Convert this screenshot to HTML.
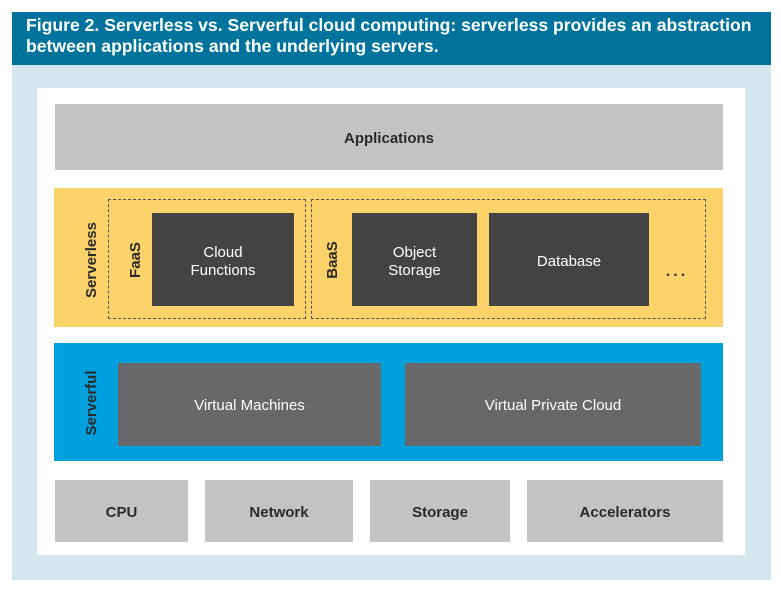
<!DOCTYPE html>
<html><head><style>
*{margin:0;padding:0;box-sizing:border-box}
body{width:781px;height:593px;background:#fff;position:relative;font-family:"Liberation Sans",sans-serif;overflow:hidden}
.a{position:absolute;display:flex;align-items:center;justify-content:center;text-align:center}
.g{background:#c2c3c5;color:#2a2a2a;font-weight:bold;font-size:15px;padding-top:3px}
.d{background:#434343;color:#fff;font-size:15px;line-height:18px;padding-top:4px}
.m{background:#68686a;color:#fff;font-size:15px;padding-top:2px}
.v{transform:rotate(-90deg);font-weight:bold;font-size:15px;color:#2a2a2a;white-space:nowrap}
.dash{position:absolute;border:1.5px dashed #555}
</style></head><body>
<div class="a" style="left:12px;top:12px;width:759px;height:568px;background:#d6e6ef"></div>
<div style="position:absolute;left:12px;top:12px;width:759px;height:53px;background:#00739c;color:#fff;font-weight:bold;font-size:17.6px;line-height:21px;padding:3px 0 0 14px;white-space:nowrap">Figure 2. Serverless vs. Serverful cloud computing: serverless provides an abstraction<br>between applications and the underlying servers.</div>
<div class="a" style="left:37px;top:88px;width:708px;height:467px;background:#fff"></div>
<div class="a g" style="left:55px;top:104px;width:668px;height:66px">Applications</div>
<div class="a" style="left:54px;top:188px;width:669px;height:139px;background:#fcd36b"></div>
<div class="dash" style="left:108px;top:199px;width:198px;height:120px"></div>
<div class="dash" style="left:311px;top:199px;width:395px;height:120px"></div>
<div class="a v" style="left:51px;top:250px;width:80px;height:20px">Serverless</div>
<div class="a v" style="left:115px;top:250px;width:40px;height:20px">FaaS</div>
<div class="a v" style="left:312px;top:250px;width:40px;height:20px">BaaS</div>
<div class="a d" style="left:152px;top:213px;width:142px;height:93px">Cloud<br>Functions</div>
<div class="a d" style="left:352px;top:213px;width:125px;height:93px">Object<br>Storage</div>
<div class="a d" style="left:489px;top:213px;width:160px;height:93px">Database</div>
<div class="a" style="left:660px;top:262px;width:34px;height:20px;font-weight:bold;font-size:16px;color:#333;letter-spacing:3px">...</div>
<div class="a" style="left:54px;top:343px;width:669px;height:118px;background:#00a0dc"></div>
<div class="a v" style="left:56px;top:393px;width:70px;height:20px">Serverful</div>
<div class="a m" style="left:118px;top:363px;width:263px;height:83px">Virtual Machines</div>
<div class="a m" style="left:405px;top:363px;width:296px;height:83px">Virtual Private Cloud</div>
<div class="a g" style="left:55px;top:480px;width:133px;height:62px">CPU</div>
<div class="a g" style="left:205px;top:480px;width:148px;height:62px">Network</div>
<div class="a g" style="left:370px;top:480px;width:140px;height:62px">Storage</div>
<div class="a g" style="left:527px;top:480px;width:196px;height:62px">Accelerators</div>
</body></html>
